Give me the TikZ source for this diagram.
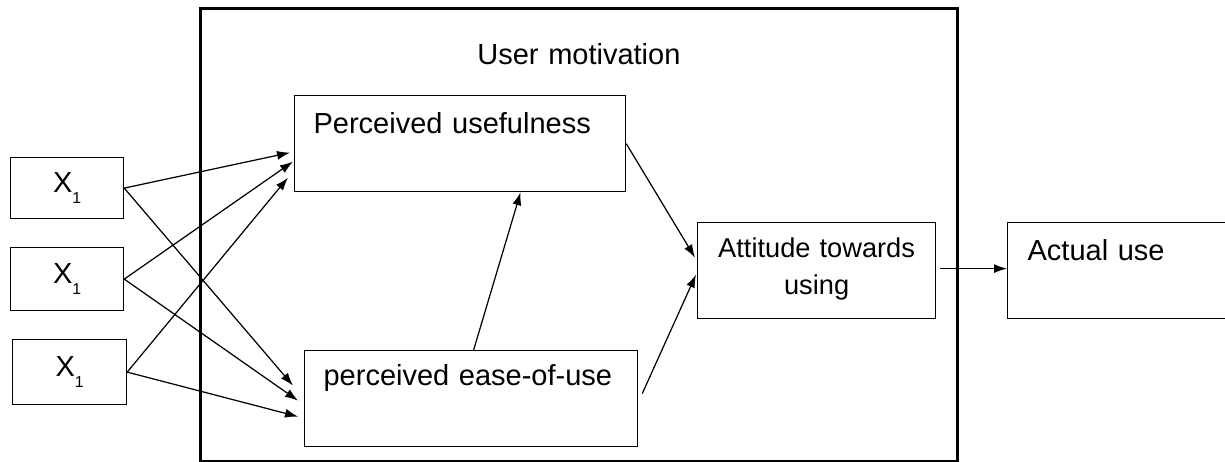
\documentclass[tikz,border=0pt]{standalone}
\usepackage{fontspec}
\setmainfont{Liberation Sans}
\usetikzlibrary{arrows.meta,positioning,calc}
\newcommand{\Xone}{X\raisebox{-0.38em}{\fontsize{9}{9}\selectfont 1}}

\begin{document}
\begin{tikzpicture}[>={Latex[length=2.6mm,width=1.8mm]},
  font=\fontsize{16.5}{20}\selectfont,line width=0.7pt,
  box/.style={draw,rectangle,anchor=north west,inner ysep=0pt},
  xbox/.style={draw,rectangle,anchor=north west,inner sep=0pt}]
\clip (0,0) rectangle (24.5,9.24);
\node[box,line width=1.6pt,inner xsep=0.1cm,text width=14.94cm,align=center,
  text height=1.12cm,text depth=7.94cm] (um) at (3.98,9.1) {User motivation};
\node[box,inner xsep=0.38cm,text width=5.86cm,align=left,
  text height=0.76cm,text depth=1.16cm] (pu) at (5.88,7.34) {Perceived usefulness};
\node[box,inner xsep=0.38cm,text width=5.90cm,align=left,
  text height=0.70cm,text depth=1.22cm] (peu) at (6.08,2.24) {perceived ease-of-use};
\node[box,inner xsep=0.1cm,text width=4.56cm,align=center,font=\fontsize{15.5}{21}\selectfont,
  text height=0.70cm,text depth=1.22cm] (att) at (13.94,4.8) {Attitude towards\\using};
\node[box,inner xsep=0.4cm,text width=4.4cm,align=left,
  text height=0.76cm,text depth=1.16cm] (act) at (20.14,4.8) {Actual use};
\node[xbox,minimum width=2.26cm,minimum height=1.22cm] (xa) at (0.2,6.1) {\Xone};
\node[xbox,minimum width=2.26cm,minimum height=1.26cm] (xb) at (0.2,4.3) {\Xone};
\node[xbox,minimum width=2.28cm,minimum height=1.3cm] (xc) at (0.24,2.46) {\Xone};
% inputs
\draw[->] (xa.east)--([shift={(-0.08,-0.18)}]pu.west);
\draw[->] (xb.east)--([shift={(-0.02,-0.36)}]pu.west);
\draw[->] (xc.east)--([shift={(-0.12,-0.68)}]pu.west);
\draw[->] (xa.east)--([shift={(-0.22,0.26)}]peu.west);
\draw[->] (xb.east)--([shift={(-0.12,-0.04)}]peu.west);
\draw[->] (xc.east)--([shift={(-0.12,-0.36)}]peu.west);
% motivation
\draw[->] ([xshift=0.05cm]peu.north)--([xshift=1.21cm]pu.south);
\draw[->] (pu.east)--([shift={(-0.04,0.26)}]att.west);
\draw[->] ([shift={(0.08,0.1)}]peu.east)--([shift={(-0.02,-0.08)}]att.west);
\draw[->] ([shift={(0.08,0.04)}]att.east)--([yshift=0.04cm]act.west);
\end{tikzpicture}
\end{document}
